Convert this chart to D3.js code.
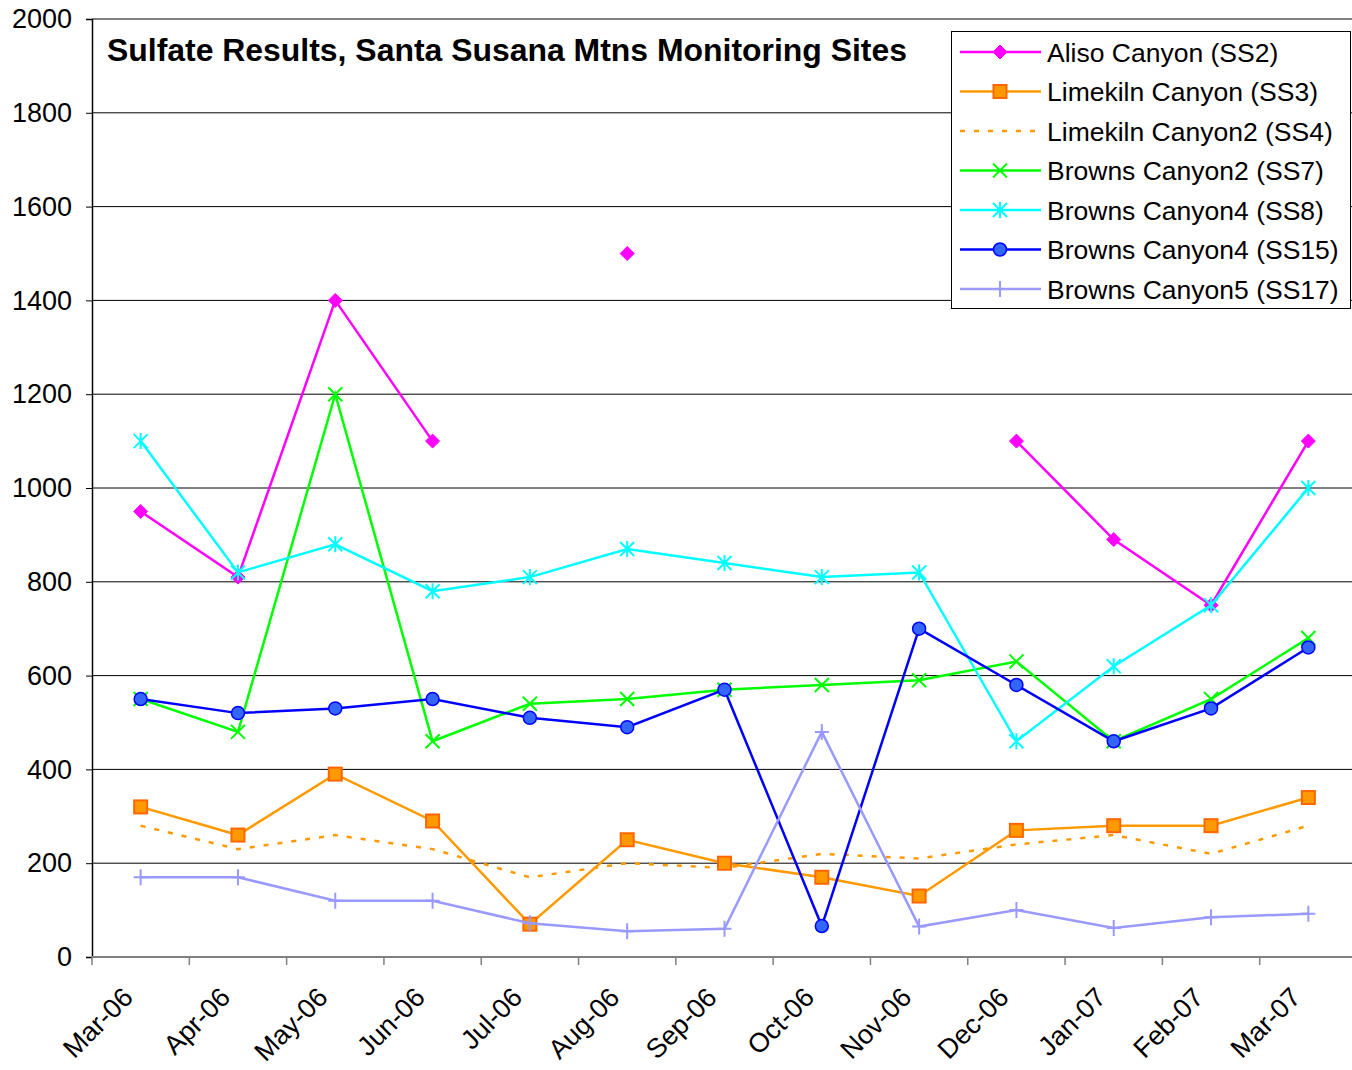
<!DOCTYPE html>
<html>
<head>
<meta charset="utf-8">
<script src="https://cdn.jsdelivr.net/npm/d3@7"></script>
<style>
  body { margin: 0; background: #fff; }
  svg { display: block; font-family: "Liberation Sans", Arial, sans-serif; }
</style>
</head>
<body>
<svg id="chart" width="1352" height="1070"></svg>
<script>
const months = ["Mar-06", "Apr-06", "May-06", "Jun-06", "Jul-06", "Aug-06", "Sep-06",
  "Oct-06", "Nov-06", "Dec-06", "Jan-07", "Feb-07", "Mar-07"];

const yTicks = [0, 200, 400, 600, 800, 1000, 1200, 1400, 1600, 1800, 2000];

// 값 (null = 측정 없음)
const ss2 = [950, 810, 1400, 1100, null, 1500, null, null, null, 1100, 890, 750, 1100];
const ss3 = [320, 260, 390, 290, 70, 250, 200, 170, 130, 270, 280, 280, 340];
const ss4 = [280, 230, 260, 230, 170, 200, 190, 220, 210, 240, 260, 220, 280];
const ss7 = [550, 480, 1200, 460, 540, 550, 570, 580, 590, 630, 460, 550, 680];
const ss8 = [1100, 820, 880, 780, 810, 870, 840, 810, 820, 460, 620, 750, 1000];
const ss15 = [550, 520, 530, 550, 510, 490, 570, 66, 700, 580, 460, 530, 660];
const ss17 = [170, 170, 120, 120, 72, 55, 60, 480, 65, 100, 62, 85, 92];

const seriesNames = ["Aliso Canyon (SS2)", "Limekiln Canyon (SS3)", "Limekiln Canyon2 (SS4)",
  "Browns Canyon2 (SS7)", "Browns Canyon4 (SS8)", "Browns Canyon4 (SS15)", "Browns Canyon5 (SS17)"];

const series = [
  { name: seriesNames[0], values: ss2, color: "#ff00ff", marker: "diamond", fill: "#ff00ff", stroke: "#ff00ff" },
  { name: seriesNames[1], values: ss3, color: "#ff9900", marker: "square", fill: "#ff9900", stroke: "#ff6600" },
  { name: seriesNames[2], values: ss4, color: "#ff9900", marker: null, dash: "5,9" },
  { name: seriesNames[3], values: ss7, color: "#00ff00", marker: "x" },
  { name: seriesNames[4], values: ss8, color: "#00ffff", marker: "star" },
  { name: seriesNames[5], values: ss15, color: "#0000ff", marker: "circle", fill: "#3366ff", stroke: "#0000ff" },
  { name: seriesNames[6], values: ss17, color: "#9999ff", marker: "plus" }
];

const svg = d3.select("#chart");
const L = 92, R = 1357, T = 19, B = 957;

const x = d3.scaleBand().domain(months).range([L, R]);
const y = d3.scaleLinear().domain([0, 2000]).range([B, T]);
const cx = m => x(m) + x.bandwidth() / 2;

// 그리드
svg.append("g").selectAll("line")
  .data(yTicks.filter(t => t > 0))
  .enter().append("line")
  .attr("x1", L).attr("x2", R)
  .attr("y1", d => y(d)).attr("y2", d => y(d))
  .attr("stroke", d => d === 2000 ? "#808080" : "#000")
  .attr("stroke-width", d => d === 2000 ? 2 : 1);

// y축
const yAxis = svg.append("g")
  .attr("transform", `translate(${L},0)`)
  .call(d3.axisLeft(y).tickValues(yTicks).tickSize(6).tickPadding(14).tickFormat(d3.format("d")));
yAxis.select(".domain").attr("stroke", "#000").attr("stroke-width", 1.5);
yAxis.selectAll(".tick line").attr("stroke", "#000");
yAxis.selectAll("text").attr("font-size", 27).attr("fill", "#000")
  .attr("font-family", "Liberation Sans, Arial, sans-serif");

// x축
const xAxis = svg.append("g").attr("transform", `translate(0,${B})`);
xAxis.append("line").attr("x1", L).attr("x2", R).attr("stroke", "#808080").attr("stroke-width", 2);
xAxis.selectAll("line.tk")
  .data(months.concat(["end"]))
  .enter().append("line")
  .attr("class", "tk")
  .attr("x1", (d, i) => L + i * x.bandwidth()).attr("x2", (d, i) => L + i * x.bandwidth())
  .attr("y1", 0).attr("y2", 8)
  .attr("stroke", "#808080").attr("stroke-width", 1.5);
xAxis.selectAll("text")
  .data(months)
  .enter().append("text")
  .attr("transform", d => `translate(${cx(d) - 6},${42}) rotate(-45)`)
  .attr("text-anchor", "end")
  .attr("font-size", 27)
  .attr("fill", "#000")
  .text(d => d);

// 마커
function drawMarker(g, type, s) {
  if (type === "diamond") {
    g.append("path").attr("d", "M0,-7L7,0L0,7L-7,0Z")
      .attr("fill", s.fill).attr("stroke", s.stroke).attr("stroke-width", 1);
  } else if (type === "square") {
    g.append("rect").attr("x", -6.5).attr("y", -6.5).attr("width", 13).attr("height", 13)
      .attr("fill", s.fill).attr("stroke", s.stroke).attr("stroke-width", 2);
  } else if (type === "circle") {
    g.append("circle").attr("r", 6.5)
      .attr("fill", s.fill).attr("stroke", s.stroke).attr("stroke-width", 1.5);
  } else if (type === "x") {
    g.append("path").attr("d", "M-7,-7L7,7M-7,7L7,-7")
      .attr("stroke", s.color).attr("stroke-width", 2).attr("fill", "none");
  } else if (type === "star") {
    g.append("path").attr("d", "M-7,-7L7,7M-7,7L7,-7M0,-8L0,8")
      .attr("stroke", s.color).attr("stroke-width", 2).attr("fill", "none");
  } else if (type === "plus") {
    g.append("path").attr("d", "M-7,0L7,0M0,-8L0,8")
      .attr("stroke", s.color).attr("stroke-width", 2).attr("fill", "none");
  }
}

const line = d3.line()
  .defined(d => d.v != null)
  .x(d => cx(d.m))
  .y(d => y(d.v));

const plot = svg.append("g");
// 그리는 순서: 뒤 시리즈가 위
series.forEach(s => {
  const pts = months.map((m, i) => ({ m, v: s.values[i] }));
  plot.append("path")
    .datum(pts)
    .attr("d", line)
    .attr("fill", "none")
    .attr("stroke", s.color)
    .attr("stroke-width", 2.5)
    .attr("stroke-dasharray", s.dash || null);
  if (s.marker) {
    pts.filter(p => p.v != null).forEach(p => {
      const g = plot.append("g").attr("transform", `translate(${cx(p.m)},${y(p.v)})`);
      drawMarker(g, s.marker, s);
    });
  }
});

// 제목
svg.append("text")
  .attr("x", 107).attr("y", 61)
  .attr("font-size", 31).attr("font-weight", "bold").attr("fill", "#000")
  .attr("textLength", 800).attr("lengthAdjust", "spacingAndGlyphs")
  .text("Sulfate Results, Santa Susana Mtns Monitoring Sites");

// 범례
const lg = svg.append("g");
lg.append("rect").attr("x", 951.5).attr("y", 31.5).attr("width", 399).attr("height", 277)
  .attr("fill", "#fff").attr("stroke", "#000").attr("stroke-width", 1);
series.forEach((s, i) => {
  const ly = 52 + i * 39.5;
  lg.append("line").attr("x1", 960).attr("x2", 1041).attr("y1", ly).attr("y2", ly)
    .attr("stroke", s.color).attr("stroke-width", 2.5).attr("stroke-dasharray", s.dash || null);
  if (s.marker) {
    const g = lg.append("g").attr("transform", `translate(1000,${ly})`);
    drawMarker(g, s.marker, s);
  }
  lg.append("text").attr("x", 1047).attr("y", ly + 9.5)
    .attr("font-size", 26.5).attr("fill", "#000").text(s.name);
});
</script>
</body>
</html>
